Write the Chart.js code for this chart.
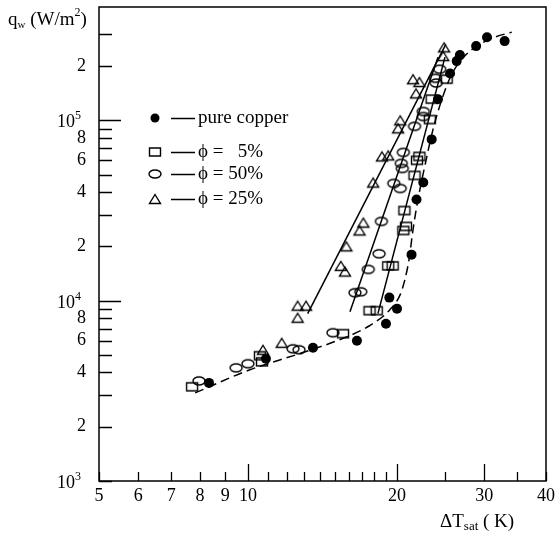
<!DOCTYPE html>
<html>
<head>
<meta charset="utf-8">
<script src="https://cdn.jsdelivr.net/npm/chart.js@4/dist/chart.umd.min.js"></script>
<style>
html, body { margin: 0; padding: 0; background: #fff; }
#chart { display: block; }
</style>
</head>
<body>
<canvas id="chart" width="557" height="533" style="width:557px;height:533px"></canvas>
<script>
// Boiling curve: wall superheat dT_sat (K) vs heat flux q_w (W/m2)

// pure copper (filled circles) + dashed fit
const copperT = [8.34, 10.87, 13.53, 16.6, 19.0, 20.0, 19.3, 21.4, 21.9, 22.6, 23.5, 24.2, 25.6, 26.4, 26.8, 28.9, 30.4, 33.0];
const copperQ = [3500, 4760, 5480, 5990, 7450, 9030, 10400, 18000, 36400, 45200, 78400, 130800, 182000, 213000, 230000, 258000, 289000, 275000];
const copperFitT = [7.82, 10.09, 12.7, 15.3, 17.6, 19.35, 20.3, 20.75, 21.15, 21.55, 22.05, 22.8, 23.65, 24.65, 25.8, 27.4, 29.4, 31.5, 34.1];
const copperFitQ = [3080, 4140, 5080, 6070, 7260, 8910, 10800, 13100, 16900, 24800, 36400, 56900, 89100, 131000, 180000, 227000, 264000, 289000, 308000];

// phi = 5% (squares)
const phi5T = [7.71, 10.57, 10.67, 15.56, 17.6, 18.2, 19.2, 19.6, 20.7, 20.85, 20.6, 21.7, 21.95, 22.2, 23.3, 23.5, 25.2];
const phi5Q = [3330, 4950, 4580, 6560, 8800, 8800, 15600, 15600, 31600, 25800, 24500, 49500, 60000, 63100, 101000, 131000, 169000];
const phi5FitT = [18.3, 25.0];
const phi5FitQ = [8470, 224000];

// phi = 50% (ellipses)
const phi50T = [7.96, 9.46, 10.0, 12.33, 12.68, 14.85, 16.45, 16.9, 17.5, 18.4, 18.6, 19.7, 20.3, 20.4, 20.5, 20.6, 21.7, 22.6, 22.6, 23.9, 24.0, 24.4];
const phi50Q = [3590, 4240, 4470, 5410, 5340, 6640, 11070, 11200, 14900, 18200, 27500, 44700, 41900, 57700, 54100, 66400, 92600, 112000, 105000, 171000, 161000, 192000];
const phi50FitT = [16.07, 24.2];
const phi50FitQ = [8690, 224000];

// phi = 25% (triangles)
const phi25T = [10.72, 11.7, 12.6, 12.6, 13.1, 15.4, 15.7, 15.8, 16.8, 17.1, 17.9, 18.65, 19.2, 20.1, 20.3, 21.85, 21.55, 22.2, 24.8, 24.9];
const phi25Q = [5340, 5840, 8040, 9380, 9380, 15600, 14500, 20000, 24500, 27100, 45200, 63100, 63900, 90300, 100000, 141000, 169000, 163000, 227000, 254000];
const phi25FitT = [13.2, 25.1];
const phi25FitQ = [8470, 264000];

// axes
const xTickValues = [5, 6, 7, 8, 9, 10, 11, 12, 13, 14, 15, 16, 17, 18, 19, 20, 25, 30, 35, 40];
const xTickLabels = ['5', '6', '7', '8', '9', '10', '', '', '', '', '', '', '', '', '', '20', '', '30', '', '40'];
const xMajor = [10, 20, 30];
const yTickValues = [1e3, 2e3, 3e3, 4e3, 5e3, 6e3, 7e3, 8e3, 9e3, 1e4, 2e4, 3e4, 4e4, 5e4, 6e4, 7e4, 8e4, 9e4, 1e5, 2e5, 3e5];
const yTickLabels = ['', '2', '', '4', '', '6', '', '8', '', '', '2', '', '4', '', '6', '', '8', '', '', '2', ''];
const yPowers = [3, 4, 5];
const yMajor = [1e4, 1e5];

const legendLabels = ['pure copper', 'ϕ =   5%', 'ϕ = 50%', 'ϕ = 25%'];
const legendMarkers = ['dot', 'square', 'ellipse', 'triangle'];

const SERIF = '"Liberation Serif", "Times New Roman", "DejaVu Serif", serif';

function pts(xs, ys) {
    return xs.map((v, i) => ({ x: v, y: ys[i] }));
}

// hollow marker sprites
function marker(kind) {
    const c = document.createElement('canvas');
    c.width = 16; c.height = 14;
    const g = c.getContext('2d');
    g.strokeStyle = '#000';
    g.lineWidth = 1.4;
    g.beginPath();
    if (kind === 'square') g.rect(2.5, 3, 11, 8);
    else if (kind === 'ellipse') g.ellipse(8, 7, 6, 4, 0, 0, Math.PI * 2);
    else if (kind === 'triangle') { g.moveTo(8, 2.5); g.lineTo(13.5, 11.5); g.lineTo(2.5, 11.5); g.closePath(); }
    g.stroke();
    return c;
}
const sprites = { square: marker('square'), ellipse: marker('ellipse'), triangle: marker('triangle') };

function pointSet(xs, ys, kind) {
    const base = { data: pts(xs, ys), showLine: false, pointHoverRadius: 5 };
    if (kind === 'dot') {
        return Object.assign(base, { pointStyle: 'circle', pointRadius: 5, backgroundColor: '#000', borderColor: '#000', borderWidth: 0 });
    }
    return Object.assign(base, { pointStyle: sprites[kind], pointRadius: 6 });
}

function lineSet(xs, ys, dashed) {
    return {
        data: pts(xs, ys),
        showLine: true,
        pointRadius: 0,
        borderColor: '#000',
        borderWidth: 1.5,
        borderDash: dashed ? [9, 5] : [],
        cubicInterpolationMode: dashed ? 'monotone' : 'default',
        tension: dashed ? 0.4 : 0,
        fill: false
    };
}

// frame, inward ticks, power labels, axis titles, legend
const decorations = {
    id: 'decorations',
    afterDraw(chart) {
        const { ctx, chartArea: a, scales: { x, y } } = chart;
        ctx.save();
        ctx.strokeStyle = '#000';
        ctx.fillStyle = '#000';
        ctx.lineWidth = 1.5;
        ctx.strokeRect(a.left, a.top, a.right - a.left, a.bottom - a.top);

        ctx.lineWidth = 1.3;
        ctx.beginPath();
        yTickValues.forEach(v => {
            const py = Math.round(y.getPixelForValue(v)) + 0.5;
            const len = yMajor.includes(v) ? 22 : 13;
            ctx.moveTo(a.left, py);
            ctx.lineTo(a.left + len, py);
        });
        xTickValues.forEach(v => {
            const px = Math.round(x.getPixelForValue(v)) + 0.5;
            const len = xMajor.includes(v) ? 17 : 9;
            ctx.moveTo(px, a.bottom);
            ctx.lineTo(px, a.bottom - len);
        });
        ctx.stroke();

        // 10^n labels
        ctx.textBaseline = 'alphabetic';
        yPowers.forEach(p => {
            const py = y.getPixelForValue(Math.pow(10, p));
            ctx.font = '18px ' + SERIF;
            ctx.textAlign = 'right';
            ctx.fillText('10', 75, py + 7);
            ctx.font = '12px ' + SERIF;
            ctx.textAlign = 'left';
            ctx.fillText(String(p), 75, py - 1);
        });

        // y title: q_w (W/m^2)
        let cx = 8;
        const seg = (txt, size, dy) => {
            ctx.font = size + 'px ' + SERIF;
            ctx.textAlign = 'left';
            ctx.fillText(txt, cx, dy);
            cx += ctx.measureText(txt).width;
        };
        seg('q', 19, 25);
        seg('w', 11, 28);
        seg(' (W/m', 19, 25);
        seg('2', 12, 16);
        seg(')', 19, 25);

        // x title: dT_sat ( K)
        cx = 440;
        seg('ΔT', 19, 527);
        seg('sat', 13, 530);
        seg(' ( K)', 19, 527);

        // legend
        const rowsY = [118, 152, 174, 199];
        legendLabels.forEach((lab, i) => {
            const ly = rowsY[i];
            const kind = legendMarkers[i];
            if (kind === 'dot') {
                ctx.beginPath();
                ctx.arc(155, ly, 4.5, 0, Math.PI * 2);
                ctx.fill();
            } else {
                const s = sprites[kind];
                ctx.drawImage(s, 155 - s.width / 2, ly - s.height / 2);
            }
            ctx.lineWidth = 1.5;
            ctx.beginPath();
            ctx.moveTo(171, ly + 0.5);
            ctx.lineTo(195, ly + 0.5);
            ctx.stroke();
            ctx.font = '19px ' + SERIF;
            ctx.textAlign = 'left';
            ctx.textBaseline = 'middle';
            ctx.fillText(lab, 198, ly);
            ctx.textBaseline = 'alphabetic';
        });
        ctx.restore();
    }
};

new Chart(document.getElementById('chart'), {
    type: 'scatter',
    data: {
        datasets: [
            pointSet(copperT, copperQ, 'dot'),
            pointSet(phi5T, phi5Q, 'square'),
            pointSet(phi50T, phi50Q, 'ellipse'),
            pointSet(phi25T, phi25Q, 'triangle'),
            lineSet(copperFitT, copperFitQ, true),
            lineSet(phi5FitT, phi5FitQ, false),
            lineSet(phi50FitT, phi50FitQ, false),
            lineSet(phi25FitT, phi25FitQ, false)
        ]
    },
    options: {
        responsive: false,
        animation: false,
        layout: { padding: { top: 7, right: 11, left: 0, bottom: 0 } },
        plugins: { legend: { display: false }, tooltip: { enabled: false } },
        scales: {
            x: {
                type: 'logarithmic',
                min: 5,
                max: 40,
                afterBuildTicks: axis => { axis.ticks = xTickValues.map(v => ({ value: v })); },
                afterFit: axis => {
                    axis.height = 52;
                    axis.paddingLeft = 0;
                    axis.paddingRight = 0;
                },
                grid: { display: false, drawTicks: false },
                border: { display: false },
                ticks: {
                    autoSkip: false,
                    maxRotation: 0,
                    minRotation: 0,
                    padding: 4,
                    color: '#000',
                    font: { family: SERIF, size: 18 },
                    callback: (v, i) => xTickLabels[i]
                }
            },
            y: {
                type: 'logarithmic',
                min: 1000,
                max: 425000,
                afterBuildTicks: axis => { axis.ticks = yTickValues.map(v => ({ value: v })); },
                afterFit: axis => {
                    axis.width = 99;
                    axis.paddingTop = 0;
                    axis.paddingBottom = 0;
                },
                grid: { display: false, drawTicks: false },
                border: { display: false },
                ticks: {
                    autoSkip: false,
                    padding: 13,
                    color: '#000',
                    font: { family: SERIF, size: 18 },
                    callback: (v, i) => yTickLabels[i]
                }
            }
        }
    },
    plugins: [decorations]
});
</script>
</body>
</html>
